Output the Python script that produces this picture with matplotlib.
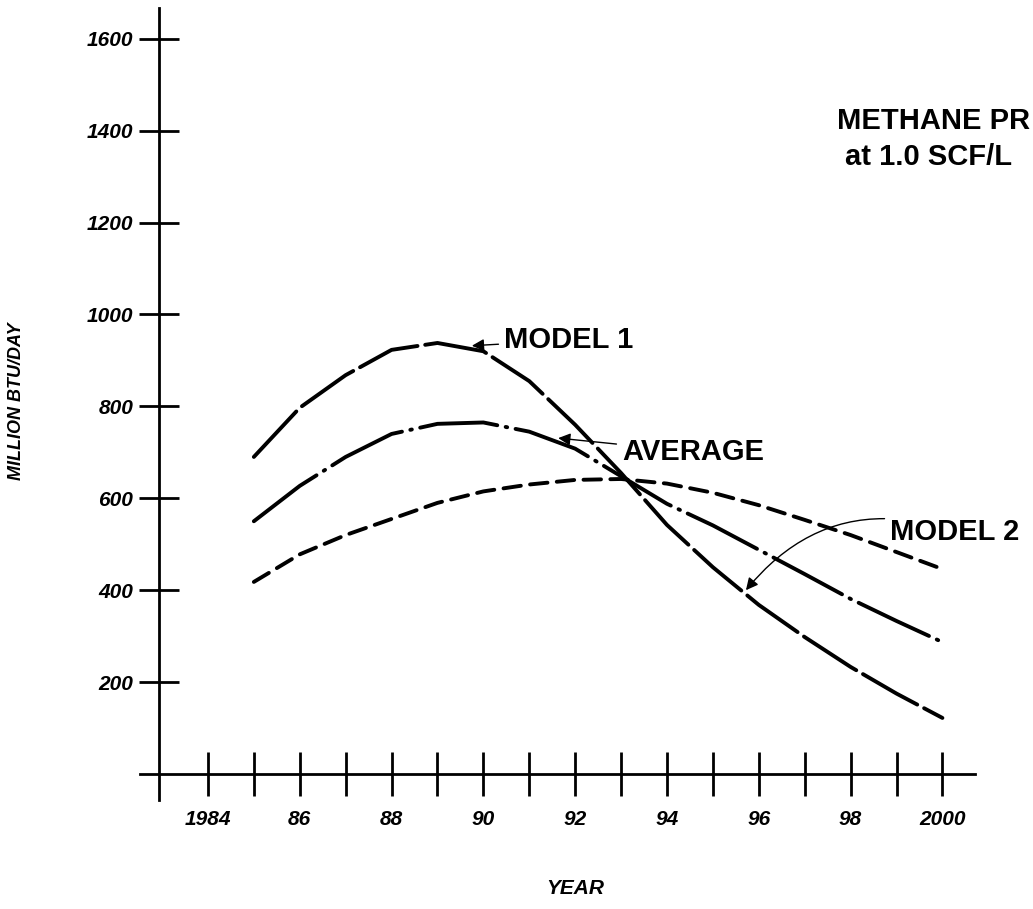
import numpy as np
import matplotlib
matplotlib.use("Agg")
import matplotlib.pyplot as plt

plt.rcParams['font.family'] = ['Liberation Sans', 'DejaVu Sans']

years = [1985, 1986, 1987, 1988, 1989, 1990, 1991, 1992,
         1993, 1994, 1995, 1996, 1997, 1998, 1999, 2000]
model1 = [690, 797, 868, 923, 938, 920, 855, 760,
          655, 542, 450, 368, 298, 233, 175, 122]
average = [550, 627, 690, 740, 762, 765, 745, 708,
           648, 588, 541, 488, 435, 381, 333, 287]
model2 = [418, 478, 520, 555, 590, 615, 630, 640,
          642, 632, 612, 585, 553, 520, 483, 446]

xticks = list(range(1984, 2001))
xticklabels = ['1984', '', '86', '', '88', '', '90', '', '92', '',
               '94', '', '96', '', '98', '', '2000']
yticks = [200, 400, 600, 800, 1000, 1200, 1400, 1600]
yticklabels = ['200', '400', '600', '800', '1000', '1200', '1400', '1600']

W, H = 1033, 909
fig = plt.figure(figsize=(W / 100, H / 100), dpi=100)
fig.patch.set_facecolor('white')
# axes box chosen so that the drawn axis lines cross where the scan has them
ax = fig.add_axes([140 / W, 1 - 800 / H, 835 / W, 792 / H])
ax.set_xlim(1982.52, 2000.71)
ax.set_ylim(-56.6, 1667)

lw = 2.8
ax.plot(years, model1, color='black', lw=lw, linestyle=(0, (16, 2)),
        solid_capstyle='round', dash_capstyle='round', solid_joinstyle='round')
ax.plot(years, average, color='black', lw=lw, linestyle=(0, (20, 2.2, 0.4, 2.2)),
        solid_capstyle='round', dash_capstyle='round', solid_joinstyle='round')
ax.plot(years, model2, color='black', lw=lw, linestyle=(0, (4.5, 2.4)),
        dash_capstyle='round')

for s in ['top', 'right']:
    ax.spines[s].set_visible(False)
ax.spines['bottom'].set_position(('data', 0))
ax.spines['left'].set_position(('data', 1982.93))
ax.spines['bottom'].set_linewidth(2)
ax.spines['left'].set_linewidth(2)

ax.set_xticks(xticks)
ax.set_xticklabels(xticklabels)
ax.set_yticks(yticks)
ax.set_yticklabels(yticklabels)
ax.tick_params(axis='x', direction='inout', length=32, width=2, pad=10)
ax.tick_params(axis='y', direction='inout', length=29, width=2, pad=4)
for lab in ax.get_xticklabels() + ax.get_yticklabels():
    lab.set_fontsize(15)
    lab.set_fontweight('bold')
    lab.set_fontstyle('italic')

fig.text(17 / W, 1 - 401 / H, 'MILLION BTU/DAY', rotation=90, ha='center', va='center',
         fontsize=13, fontweight='bold', fontstyle='italic')
fig.text(575 / W, 1 - 888 / H, 'YEAR', ha='center', va='center',
         fontsize=15, fontweight='bold', fontstyle='italic')

fig.text(837 / W, 1 - 121 / H, 'METHANE PR', ha='left', va='center',
         fontsize=21, fontweight='bold')
fig.text(845 / W, 1 - 157 / H, 'at 1.0 SCF/L', ha='left', va='center',
         fontsize=21, fontweight='bold')

arrow = dict(arrowstyle='-|>', lw=1, color='black', mutation_scale=18, shrinkA=2, shrinkB=0)
ax.annotate('MODEL 1', xy=(1989.75, 932), xytext=(1990.45, 944), ha='left', va='center',
            fontsize=21, fontweight='bold', arrowprops=arrow)
ax.annotate('AVERAGE', xy=(1991.63, 731), xytext=(1993.02, 701), ha='left', va='center',
            fontsize=21, fontweight='bold', arrowprops=arrow)
ax.annotate('MODEL 2', xy=(1995.72, 400), xytext=(1998.86, 527), ha='left', va='center',
            fontsize=21, fontweight='bold',
            arrowprops=dict(arrow, connectionstyle='arc3,rad=0.35'))

fig.savefig('out.png', dpi=100)
